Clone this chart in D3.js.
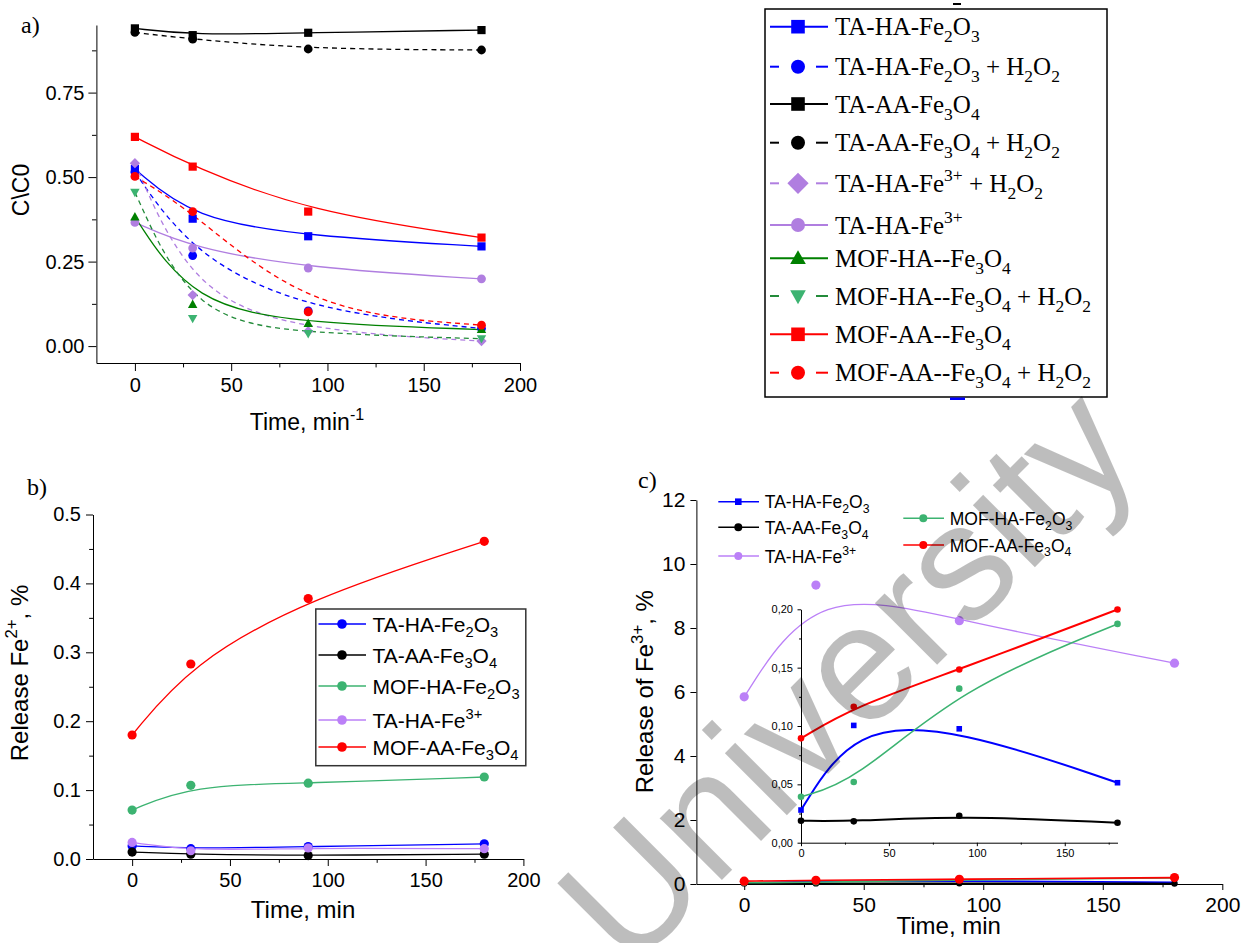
<!DOCTYPE html>
<html>
<head>
<meta charset="utf-8">
<script src="https://cdn.jsdelivr.net/npm/d3@7"></script>
<style>
  body { margin: 0; background: #fff; }
</style>
</head>
<body>
<script>
const W = 1251, H = 943
const SANS = "'Liberation Sans', Arial, sans-serif"
const SERIF = "'Liberation Serif', 'Times New Roman', serif"

// sampling times, min
const times = [0, 30, 90, 180]

// panel a: C/C0
const aTaHaFe2o3 = [0.524, 0.377, 0.325, 0.295]
const aTaHaFe2o3H2o2 = [0.515, 0.268, 0.104, 0.052]
const aTaAaFe3o4 = [0.940, 0.920, 0.927, 0.935]
const aTaAaFe3o4H2o2 = [0.928, 0.908, 0.879, 0.876]
const aTaHaFe3H2o2 = [0.541, 0.151, 0.044, 0.015]
const aTaHaFe3 = [0.366, 0.290, 0.231, 0.199]
const aMofHaFe3o4 = [0.382, 0.123, 0.067, 0.049]
const aMofHaFe3o4H2o2 = [0.455, 0.082, 0.037, 0.022]
const aMofAaFe3o4 = [0.619, 0.531, 0.398, 0.321]
const aMofAaFe3o4H2o2 = [0.502, 0.398, 0.101, 0.062]
const aLabels = ["TA-HA-Fe_2O_3", "TA-HA-Fe_2O_3 + H_2O_2", "TA-AA-Fe_3O_4", "TA-AA-Fe_3O_4 + H_2O_2",
  "TA-HA-Fe^{3+} + H_2O_2", "TA-HA-Fe^{3+}", "MOF-HA--Fe_3O_4", "MOF-HA--Fe_3O_4 + H_2O_2",
  "MOF-AA--Fe_3O_4", "MOF-AA--Fe_3O_4 + H_2O_2"]
const aYTicks = [0, 0.25, 0.5, 0.75]
const aYMinor = [0.125, 0.375, 0.625, 0.875]

// panel b: Fe2+ release, %
const bTaHaFe2o3 = [0.019, 0.015, 0.018, 0.022]
const bTaAaFe3o4 = [0.010, 0.007, 0.005, 0.007]
const bMofHaFe2o3 = [0.071, 0.107, 0.110, 0.119]
const bTaHaFe3 = [0.024, 0.012, 0.016, 0.015]
const bMofAaFe3o4 = [0.180, 0.283, 0.378, 0.461]
const bLabels = ["TA-HA-Fe_2O_3", "TA-AA-Fe_3O_4", "MOF-HA-Fe_2O_3", "TA-HA-Fe^{3+}", "MOF-AA-Fe_3O_4"]
const bYTicks = [0, 0.1, 0.2, 0.3, 0.4, 0.5]
const bYMinor = [0.05, 0.15, 0.25, 0.35, 0.45]

// panel c: Fe3+ release, %
const cTaHaFe2o3 = [0.028, 0.1005, 0.0976, 0.0514]
const cTaAaFe3o4 = [0.0188, 0.0183, 0.0231, 0.0171]
const cTaHaFe3 = [5.85, 9.34, 8.23, 6.90]
const cMofHaFe2o3 = [0.0394, 0.052, 0.132, 0.1875]
const cMofAaFe3o4 = [0.0894, 0.1164, 0.1484, 0.1998]
const cLabels = ["TA-HA-Fe_2O_3", "TA-AA-Fe_3O_4", "TA-HA-Fe^{3+}", "MOF-HA-Fe_2O_3", "MOF-AA-Fe_3O_4"]
const cYTicks = [0, 2, 4, 6, 8, 10, 12]
const insetYTicks = [0, 0.05, 0.10, 0.15, 0.20]
const insetYMinor = [0.025, 0.075, 0.125, 0.175]
const insetXTicks = [0, 50, 100, 150]
const insetXMinor = [25, 75, 125, 175]

const xTicks = [0, 50, 100, 150, 200]
const xMinor = [25, 75, 125, 175]

var svg = d3.select("body").append("svg").attr("width", W).attr("height", H)

// text with _x subscripts and ^{..} superscripts
function rich(t, str, fs) {
	var parts = str.split(/(_\{[^}]*\}|_.|\^\{[^}]*\}|\^.)/).filter(s => s)
	var shift = 0
	parts.forEach(function (p) {
		var txt = p, target = 0, small = false
		if (p[0] == "_") { txt = p[1] == "{" ? p.slice(2, -1) : p.slice(1); target = 0.28 * fs; small = true }
		else if (p[0] == "^") { txt = p[1] == "{" ? p.slice(2, -1) : p.slice(1); target = -0.42 * fs; small = true }
		var ts = t.append("tspan").text(txt).attr("dy", target - shift)
		if (small) ts.attr("font-size", fs * 0.7)
		shift = target
	})
}

function marker(g, shape, cx, cy, r, fill) {
	var d
	if (shape == "square") d = `M${-r},${-r}h${2 * r}v${2 * r}h${-2 * r}Z`
	else if (shape == "diamond") d = `M0,${-r * 1.25}L${r * 1.25},0L0,${r * 1.25}L${-r * 1.25},0Z`
	else if (shape == "tup") d = `M0,${-r * 1.2}L${r * 1.15},${r * 0.85}L${-r * 1.15},${r * 0.85}Z`
	else if (shape == "tdown") d = `M0,${r * 1.2}L${r * 1.15},${-r * 0.85}L${-r * 1.15},${-r * 0.85}Z`
	else {
		g.append("circle").attr("cx", cx).attr("cy", cy).attr("r", r).attr("fill", fill)
		return
	}
	g.append("path").attr("d", d).attr("transform", `translate(${cx},${cy})`).attr("fill", fill)
}

function axes(x, y, o) {
	var y0 = y.range()[0], x0 = x.range()[0]
	var gx = svg.append("g").attr("transform", `translate(0,${y0})`)
		.call(d3.axisBottom(x).tickValues(o.xt).tickSize(o.ts).tickSizeOuter(0).tickPadding(o.xp).tickFormat(o.xf))
	var gy = svg.append("g").attr("transform", `translate(${x0},0)`)
		.call(d3.axisLeft(y).tickValues(o.yt).tickSize(o.ts).tickSizeOuter(0).tickPadding(o.yp).tickFormat(o.yf))
	if (o.xm) svg.append("g").attr("transform", `translate(0,${y0})`)
		.call(d3.axisBottom(x).tickValues(o.xm).tickSize(o.ts * 0.55).tickFormat("")).select(".domain").remove()
	if (o.ym) svg.append("g").attr("transform", `translate(${x0},0)`)
		.call(d3.axisLeft(y).tickValues(o.ym).tickSize(o.ts * 0.55).tickFormat("")).select(".domain").remove()
	;[gx, gy].forEach(function (g) {
		g.selectAll("text").attr("font-family", SANS).attr("font-size", o.fs).attr("fill", "#000")
	})
	svg.selectAll(".domain, .tick line").attr("stroke", "#000").attr("stroke-width", o.sw)
}

function curveLine(g, x, y, vals, color, width, dash) {
	var line = d3.line().x((d, i) => x(times[i])).y(d => y(d)).curve(d3.curveBasis)
	g.append("path").attr("d", line(vals)).attr("fill", "none")
		.attr("stroke", color).attr("stroke-width", width)
		.attr("stroke-dasharray", dash ? "5,4" : null)
}

function label(x, y, str, fs, family, anchor, rotate) {
	var t = svg.append("text").attr("font-family", family).attr("font-size", fs).attr("fill", "#000")
		.attr("text-anchor", anchor)
		.attr("transform", `translate(${x},${y})` + (rotate ? ` rotate(${rotate})` : ""))
	rich(t, str, fs)
}

// ---------------- panel a ----------------
var xa = d3.scaleLinear().domain([-20, 200]).range([96.4, 520])
var ya = d3.scaleLinear().domain([-0.05, 0.95]).range([363, 25])
axes(xa, ya, { xt: xTicks, xm: xMinor, yt: aYTicks, ym: aYMinor, ts: 8, xp: 6.5, yp: 4, fs: 20, sw: 1.3,
	xf: d3.format("d"), yf: d3.format(".2f") })

var aGreenDash = "#238b3a"
var aSeries = [
	{ v: aTaHaFe2o3, c: "#0000ff", m: "#0000ff", dash: false, s: "square" },
	{ v: aTaHaFe2o3H2o2, c: "#0000ff", m: "#0000ff", dash: true, s: "circle" },
	{ v: aTaAaFe3o4, c: "#000", m: "#000", dash: false, s: "square" },
	{ v: aTaAaFe3o4H2o2, c: "#000", m: "#000", dash: true, s: "circle" },
	{ v: aTaHaFe3H2o2, c: "#b07ee0", m: "#b07ee0", dash: true, s: "diamond" },
	{ v: aTaHaFe3, c: "#b07ee0", m: "#b07ee0", dash: false, s: "circle" },
	{ v: aMofHaFe3o4, c: "#008000", m: "#008000", dash: false, s: "tup" },
	{ v: aMofHaFe3o4H2o2, c: aGreenDash, m: "#3cb371", dash: true, s: "tdown" },
	{ v: aMofAaFe3o4, c: "#ff0000", m: "#ff0000", dash: false, s: "square" },
	{ v: aMofAaFe3o4H2o2, c: "#ff0000", m: "#ff0000", dash: true, s: "circle" }
]
var ga = svg.append("g")
aSeries.forEach(s => curveLine(ga, xa, ya, s.v, s.c, 1.3, s.dash))
aSeries.forEach(function (s) {
	var r = s.s == "circle" ? 4.4 : 4.1
	s.v.forEach((d, i) => marker(ga, s.s, xa(times[i]), ya(d), r, s.m))
})
label(29, 190, "C\\C0", 23, SANS, "middle", -90)
label(307, 430, "Time, min^{-1}", 23, SANS, "middle")
label(21, 33, "a)", 24, SERIF, "start")

// legend a
var la = svg.append("g")
la.append("rect").attr("x", 765).attr("y", 9).attr("width", 342).attr("height", 388)
	.attr("fill", "#fff").attr("stroke", "#000").attr("stroke-width", 1.5)
la.append("rect").attr("x", 953).attr("y", 3).attr("width", 8).attr("height", 2).attr("fill", "#000")
la.append("rect").attr("x", 950).attr("y", 397.5).attr("width", 15).attr("height", 2.5).attr("fill", "#0000ff")
var laRows = [26.7, 66.7, 104, 142.7, 183.3, 225, 258.3, 296, 334.3, 372.7]
aSeries.forEach(function (s, i) {
	var cy = laRows[i]
	if (s.dash) {
		la.append("line").attr("x1", 770).attr("x2", 779).attr("y1", cy).attr("y2", cy).attr("stroke", s.c).attr("stroke-width", 2)
		la.append("line").attr("x1", 816).attr("x2", 828).attr("y1", cy).attr("y2", cy).attr("stroke", s.c).attr("stroke-width", 2)
	} else {
		la.append("line").attr("x1", 770).attr("x2", 828).attr("y1", cy).attr("y2", cy).attr("stroke", s.c).attr("stroke-width", 2)
	}
	var r = s.s == "diamond" ? 8.5 : (s.s == "circle" ? 7 : 6.8)
	marker(la, s.s, 798, cy, r, s.m)
	var t = la.append("text").attr("x", 835).attr("y", cy + 8.5).attr("font-family", SERIF)
		.attr("font-size", 25).attr("fill", "#000")
	rich(t, aLabels[i], 25)
})

// ---------------- panel b ----------------
var xb = d3.scaleLinear().domain([-20, 200]).range([93, 523.4])
var yb = d3.scaleLinear().domain([0, 0.5]).range([859, 514.5])
axes(xb, yb, { xt: xTicks, xm: xMinor, yt: bYTicks, ym: bYMinor, ts: 7, xp: 6.5, yp: 5, fs: 20, sw: 1.3,
	xf: d3.format("d"), yf: d3.format(".1f") })
var bSeries = [
	{ v: bTaHaFe2o3, c: "#0000ff" },
	{ v: bTaAaFe3o4, c: "#000" },
	{ v: bMofHaFe2o3, c: "#3cb371" },
	{ v: bTaHaFe3, c: "#bb80f7" },
	{ v: bMofAaFe3o4, c: "#ff0000" }
]
var gb = svg.append("g")
bSeries.forEach(s => curveLine(gb, xb, yb, s.v, s.c, 1.3, false))
bSeries.forEach(s => s.v.forEach((d, i) => marker(gb, "circle", xb(times[i]), yb(d), 4.6, s.c)))
label(27.5, 673, "Release Fe^{2+}, %", 24, SANS, "middle", -90)
label(303, 918, "Time, min", 24, SANS, "middle")
label(27, 495, "b)", 24, SERIF, "start")

var lb = svg.append("g")
lb.append("rect").attr("x", 315.8).attr("y", 609).attr("width", 210).attr("height", 156.7)
	.attr("fill", "#fff").attr("stroke", "#333").attr("stroke-width", 1.5)
var lbRows = [624, 655, 686, 720, 747]
bSeries.forEach(function (s, i) {
	var cy = lbRows[i]
	lb.append("line").attr("x1", 318.5).attr("x2", 366).attr("y1", cy).attr("y2", cy).attr("stroke", s.c).attr("stroke-width", 1.4)
	marker(lb, "circle", 342, cy, 4.8, s.c)
	var t = lb.append("text").attr("x", 372.6).attr("y", cy + 7.5).attr("font-family", SANS)
		.attr("font-size", 21).attr("fill", "#000")
	rich(t, bLabels[i], 21)
})

// ---------------- panel c ----------------
var xc = d3.scaleLinear().domain([-20, 200]).range([696.4, 1222.3])
var yc = d3.scaleLinear().domain([0, 12]).range([884, 500])
axes(xc, yc, { xt: xTicks, xm: xMinor, yt: cYTicks, ts: 6, xp: 7, yp: 5, fs: 21, sw: 1.3,
	xf: d3.format("d"), yf: d3.format("d") })

var cSeries = [
	{ v: cTaHaFe2o3, c: "#0000ff", s: "square" },
	{ v: cTaAaFe3o4, c: "#000", s: "circle" },
	{ v: cTaHaFe3, c: "#bb80f7", s: "circle" },
	{ v: cMofHaFe2o3, c: "#3cb371", s: "circle" },
	{ v: cMofAaFe3o4, c: "#ff0000", s: "circle" }
]
var gc = svg.append("g")
cSeries.forEach(s => curveLine(gc, xc, yc, s.v, s.c, s.c == "#bb80f7" ? 1.3 : 1.6, false))
cSeries.forEach(function (s) {
	var r = s.c == "#ff0000" ? 4.6 : (s.c == "#bb80f7" ? 4.6 : (s.s == "square" ? 2.6 : 3.2))
	s.v.forEach((d, i) => marker(gc, s.s, xc(times[i]), yc(d), r, s.c))
})

// inset
var xi = d3.scaleLinear().domain([0, 180]).range([801, 1117.5])
var yi = d3.scaleLinear().domain([0, 0.2]).range([842.7, 609.3])
var insetFmt = d => d3.format(".2f")(d).replace(".", ",")
axes(xi, yi, { xt: insetXTicks, xm: insetXMinor.filter(d => d < 180), yt: insetYTicks, ym: insetYMinor, ts: 3.5, xp: 3.5, yp: 4.5, fs: 11, sw: 1,
	xf: d3.format("d"), yf: insetFmt })
var gi = svg.append("g")
cSeries.filter(s => s.v != cTaHaFe3).forEach(s => curveLine(gi, xi, yi, s.v, s.c, s.c == "#3cb371" ? 1.6 : 2, false))
cSeries.filter(s => s.v != cTaHaFe3).forEach(function (s) {
	var r = s.s == "square" ? 2.8 : 3.3
	s.v.forEach((d, i) => marker(gi, s.s, xi(times[i]), yi(d), r, s.c))
})

label(653, 691.7, "Release of Fe^{3+}, %", 24, SANS, "middle", -90)
label(948.7, 934, "Time, min", 24, SANS, "middle")
label(638, 488, "c)", 24, SERIF, "start")

var lc = svg.append("g")
var lcPos = [[718.3, 501.7], [718.3, 527.3], [718.3, 556], [903.3, 518.3], [903.3, 545]]
cSeries.forEach(function (s, i) {
	var p = lcPos[i]
	lc.append("line").attr("x1", p[0]).attr("x2", p[0] + 40.7).attr("y1", p[1]).attr("y2", p[1]).attr("stroke", s.c).attr("stroke-width", 1.4)
	marker(lc, s.s, p[0] + 20, p[1], s.s == "square" ? 3.3 : 4, s.c)
	var t = lc.append("text").attr("x", p[0] + 46.5).attr("y", p[1] + 6.5).attr("font-family", SANS)
		.attr("font-size", 17.5).attr("fill", "#000")
	rich(t, cLabels[i], 17.5)
})

// watermark
svg.append("text").text("University")
	.attr("font-family", SANS).attr("font-size", 166)
	.attr("fill", "#000").attr("fill-opacity", 0.26)
	.attr("transform", "translate(629,973) rotate(-45)")
</script>
</body>
</html>
